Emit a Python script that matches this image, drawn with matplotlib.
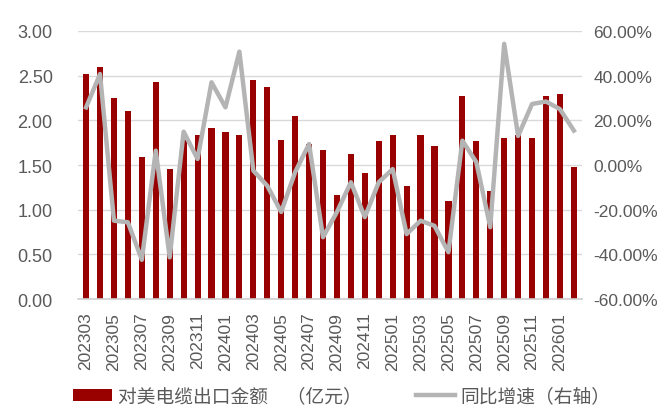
import matplotlib
matplotlib.use('Agg')
import matplotlib.pyplot as plt
import numpy as np
from matplotlib.ticker import FuncFormatter

plt.rcParams['font.family'] = ['Noto Sans CJK SC', 'DejaVu Sans']
plt.rcParams['axes.unicode_minus'] = False

# 月份
months = ['202303', '202304', '202305', '202306', '202307', '202308', '202309', '202310',
          '202311', '202312', '202401', '202402', '202403', '202404', '202405', '202406',
          '202407', '202408', '202409', '202410', '202411', '202412', '202501', '202502',
          '202503', '202504', '202505', '202506', '202507', '202508', '202509', '202510',
          '202511', '202512', '202601', '202602']
# 出口金额（亿元）
export_value = [2.52, 2.60, 2.25, 2.10, 1.59, 2.43, 1.46, 1.78,
                1.84, 1.91, 1.87, 1.84, 2.45, 2.37, 1.78, 2.05,
                1.74, 1.67, 1.17, 1.62, 1.41, 1.77, 1.84, 1.27,
                1.84, 1.71, 1.10, 2.27, 1.77, 1.21, 1.80, 1.84,
                1.80, 2.27, 2.29, 1.48]
# 同比增速（%）
yoy = [25.8, 40.7, -24.9, -25.6, -42.4, 6.4, -41.3, 14.9,
       2.7, 37.0, 25.8, 50.7, -2.5, -9.3, -21.0, -3.2,
       9.4, -32.3, -21.0, -7.7, -23.3, -7.7, -1.8, -30.9,
       -24.9, -27.2, -39.0, 10.9, 1.3, -27.8, 54.2, 13.0,
       27.3, 28.4, 25.0, 15.4]

bar_color = '#990000'
line_color = '#b4b4b4'
text_color = '#595959'
num_font = 'Liberation Sans'

fig = plt.figure(figsize=(6.7, 4.14), dpi=100, facecolor='white')
ax = fig.add_axes([0.116, 0.275, 0.753, 0.648])
x = np.arange(len(months))

bars = ax.bar(x, export_value, width=0.44, color=bar_color, zorder=2)
ax.set_ylim(0, 3.0)
ax.set_yticks(np.arange(0, 3.01, 0.5))
ax.yaxis.set_major_formatter(FuncFormatter(lambda v, p: f'{v:.2f}'))
ax.set_xlim(-0.6, len(months) - 0.4)
ax.set_xticks(x[::2])
ax.set_xticklabels(months[::2], rotation=90, fontsize=12.5, color=text_color,
                   family=num_font)
for lbl in ax.get_yticklabels():
    lbl.set_family(num_font)
ax.tick_params(axis='y', labelsize=13, colors=text_color, length=0, pad=18)
ax.tick_params(axis='x', length=0, pad=9)
ax.grid(True, axis='y', color='#d9d9d9', linewidth=1, zorder=0)
for s in ['top', 'right', 'left']:
    ax.spines[s].set_visible(False)
ax.spines['bottom'].set_color('#d0d0d0')
ax.spines['bottom'].set_linewidth(1.2)

ax2 = ax.twinx()
line, = ax2.plot(x, yoy, color=line_color, linewidth=3.2, zorder=3)
ax2.set_ylim(-60, 60)
ax2.set_yticks(np.arange(-60, 61, 20))
ax2.yaxis.set_major_formatter(FuncFormatter(lambda v, p: f'{v:.2f}%'))
for lbl in ax2.get_yticklabels():
    lbl.set_family(num_font)
ax2.tick_params(axis='y', labelsize=12.5, colors=text_color, length=0, pad=8)
for s in ['top', 'right', 'left', 'bottom']:
    ax2.spines[s].set_visible(False)

fig.legend([bars, line], ['对美电缆出口金额　（亿元）', '同比增速（右轴）'],
           loc='lower center', bbox_to_anchor=(0.51, -0.025), ncol=2, frameon=False,
           prop={'size': 13.5}, labelcolor=text_color, handlelength=2.1,
           handleheight=0.6, handletextpad=0.3, columnspacing=2.9)

fig.savefig('out.png', dpi=100, facecolor='white')
